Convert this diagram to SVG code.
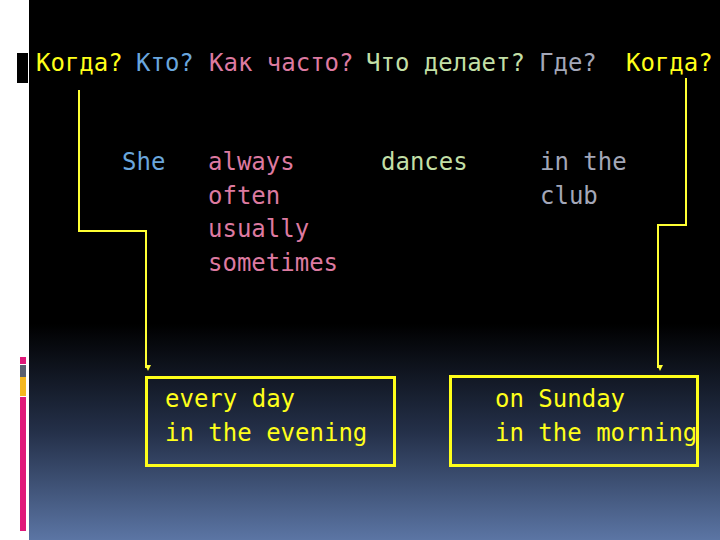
<svg xmlns="http://www.w3.org/2000/svg" width="720" height="540" viewBox="0 0 720 540">
<defs>
<linearGradient id="bg" x1="0" y1="0" x2="0" y2="1">
<stop offset="0" stop-color="#000"/>
<stop offset="0.6" stop-color="#000"/>
<stop offset="0.8" stop-color="#243049"/>
<stop offset="1" stop-color="#5b75a4"/>
</linearGradient>
<marker id="arr" viewBox="0 0 6 6" refX="3" refY="5" markerWidth="6" markerHeight="6" markerUnits="userSpaceOnUse" orient="auto-start-reverse">
<path d="M0,0 L6,0 L3,6 Z" fill="#ffff33" transform="rotate(-90 3 3)"/>
</marker>
<style>
text{font-family:"DejaVu Sans Mono","Liberation Mono",monospace;font-size:24px}
.y{fill:#ffff1a}.b{fill:#6aa6dd}.p{fill:#dd7aa0}.g{fill:#c2dfa6}.s{fill:#a3a7b8}
.box{fill:none;stroke:#ffff1a;stroke-width:3}
.con{fill:none;stroke:#ffff33;stroke-width:2}
</style>
</defs>
<rect x="0" y="0" width="720" height="540" fill="#fff"/>
<rect x="29" y="0" width="691" height="540" fill="url(#bg)"/>
<rect x="17" y="53" width="11" height="30" fill="#000"/>
<rect x="20" y="357" width="6" height="7" fill="#e0197a"/>
<rect x="20" y="365" width="6" height="12" fill="#5a6070"/>
<rect x="20" y="377" width="6" height="19" fill="#f5b820"/>
<rect x="20" y="397" width="6" height="134" fill="#e0197a"/>
<g id="header">
<text x="36" y="71"><tspan class="y">Когда?</tspan><tspan x="136" class="b">Кто?</tspan><tspan x="209" class="p">Как часто?</tspan><tspan x="366" class="g">Что делает?</tspan><tspan x="539" class="s">Где?</tspan><tspan x="626" class="y">Когда?</tspan></text>
</g>
<g id="connectors">
<path class="con" d="M79,90 V231 H146 V368" marker-end="url(#arr)"/>
<path class="con" d="M686,78 V225 H658 V368" marker-end="url(#arr)"/>
</g>
<g id="she"><text x="122" y="170" class="b">She</text></g>
<g id="freq"><text class="p" x="208" y="170">always<tspan x="208" y="204">often</tspan><tspan x="208" y="237">usually</tspan><tspan x="208" y="271">sometimes</tspan></text></g>
<g id="verb"><text class="g" x="381" y="170">dances</text></g>
<g id="place"><text class="s" x="540" y="170">in the<tspan x="540" y="204">club</tspan></text></g>
<g id="box-left">
<rect class="box" x="146.5" y="377.5" width="248" height="88"/>
<text class="y" x="165" y="407">every day<tspan x="165" y="441">in the evening</tspan></text>
</g>
<g id="box-right">
<rect class="box" x="450.5" y="376.5" width="247" height="89"/>
<text class="y" x="495" y="407">on Sunday<tspan x="495" y="441">in the morning</tspan></text>
</g>
</svg>
